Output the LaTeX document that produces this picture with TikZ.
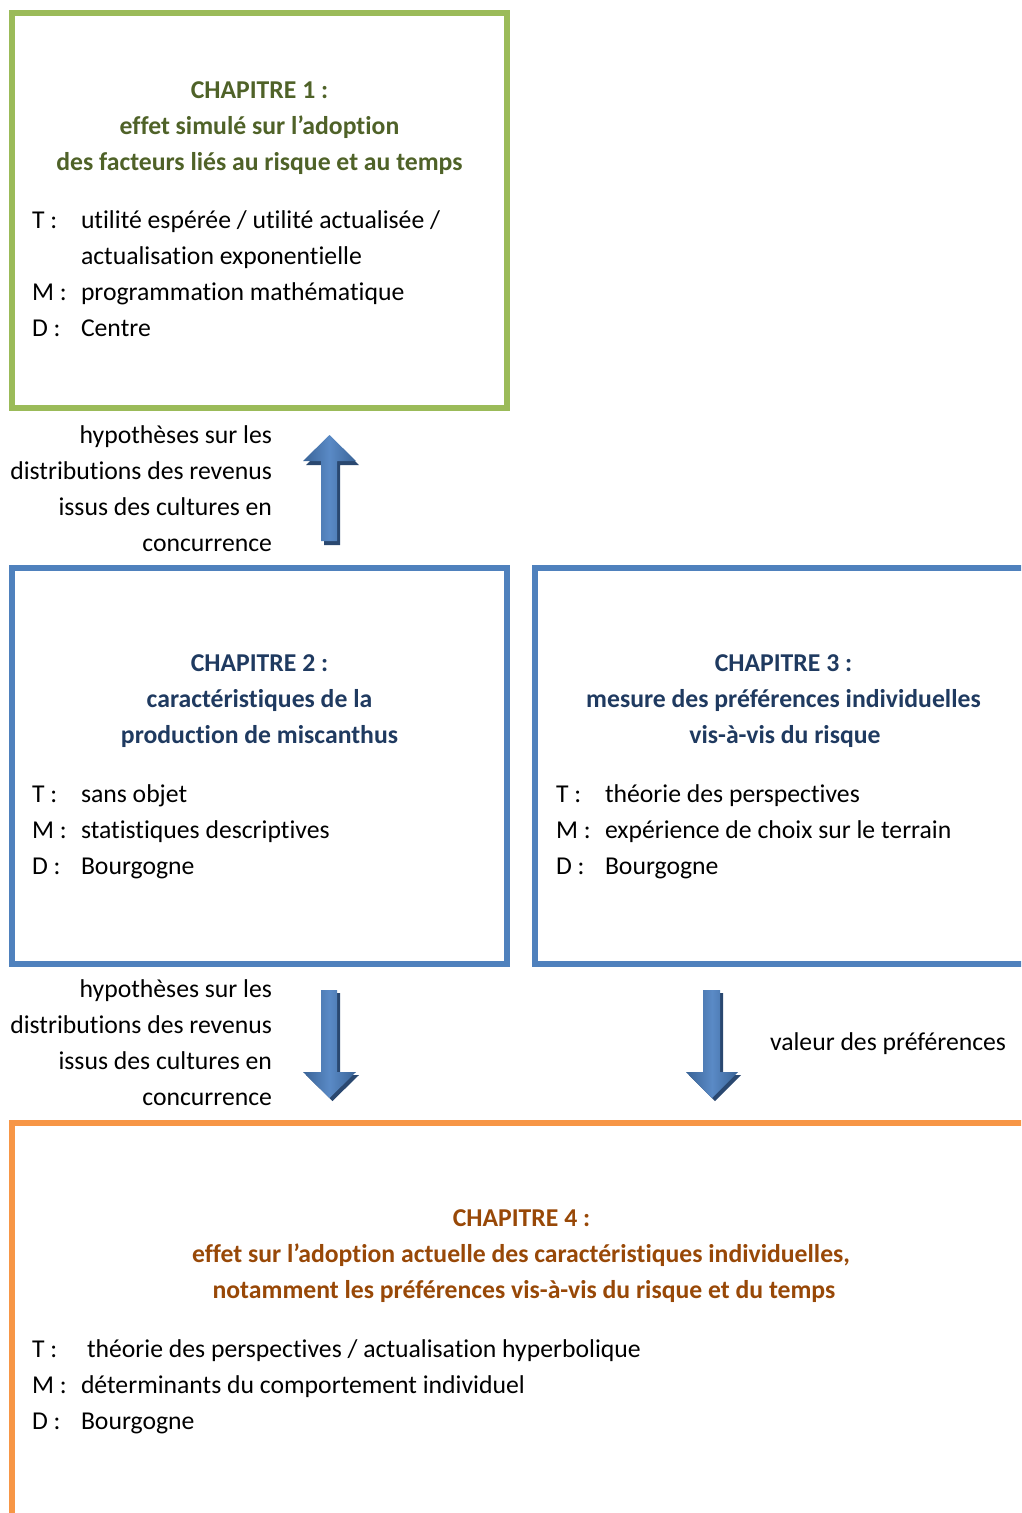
\documentclass[tikz,border=0pt]{standalone}
\usepackage{fontspec}
\setmainfont{Carlito}[Ligatures=NoCommon]
\definecolor{cgreen}{HTML}{9BBB59}
\definecolor{cblue}{HTML}{4F81BD}
\definecolor{corange}{HTML}{F79646}
\definecolor{tgreen}{HTML}{4F6228}
\definecolor{tblue}{HTML}{1F3A60}
\definecolor{torange}{HTML}{984807}
\definecolor{ashadow}{HTML}{2A4870}
\definecolor{adark}{HTML}{3A6497}
\definecolor{alight}{HTML}{5A8AC6}
\begin{document}
\begin{tikzpicture}[x=1pt,y=-1pt,
  every node/.style={inner sep=0pt,outer sep=0pt,font=\fontsize{25.7}{36}\selectfont},
  lab/.style={anchor=base west},
  labr/.style={anchor=base east},
  ttl/.style={anchor=base,font=\fontsize{25.7}{36}\selectfont\bfseries},
  boxline/.style={line width=6pt},
  arrowfill/.style={left color=adark,right color=adark,middle color=alight},
  arrowshadow/.style={fill=ashadow}]
\useasboundingbox (0,0) rectangle (1021,1513);
\clip (0,0) rectangle (1021,1513);
% boxes
\draw[boxline,cgreen] (12,12.5) rectangle (507,407.5);
\draw[boxline,cblue] (12,568) rectangle (507,963.5);
\draw[boxline,cblue] (535,568) rectangle (1035,963.5);
\draw[boxline,corange] (12,1123) rectangle (1035,1535);
% chapter 1
\node[ttl,tgreen] (c1a) at (259.5,98) {CHAPITRE 1 :};
\node[ttl,tgreen] (c1b) at (259.5,134) {effet simulé sur l’adoption};
\node[ttl,tgreen] (c1c) at (259.5,170) {des facteurs liés au risque et au temps};
\node[lab] (c1T) at (32,228) {T :};
\node[lab] (c1Tx) at (81,228) {utilité espérée / utilité actualisée /};
\node[lab] (c1Tx2) at (81,264) {actualisation exponentielle};
\node[lab] (c1M) at (32,300) {M :};
\node[lab] (c1Mx) at (81,300) {programmation mathématique};
\node[lab] (c1D) at (32,336) {D :};
\node[lab] (c1Dx) at (81,336) {Centre};
% chapter 2
\node[ttl,tblue] (c2a) at (259.5,671) {CHAPITRE 2 :};
\node[ttl,tblue] (c2b) at (259.5,707) {caractéristiques de la};
\node[ttl,tblue] (c2c) at (259.5,743) {production de miscanthus};
\node[lab] (c2T) at (32,802) {T :};
\node[lab] (c2Tx) at (81,802) {sans objet};
\node[lab] (c2M) at (32,838) {M :};
\node[lab] (c2Mx) at (81,838) {statistiques descriptives};
\node[lab] (c2D) at (32,874) {D :};
\node[lab] (c2Dx) at (81,874) {Bourgogne};
% chapter 3
\node[ttl,tblue] (c3a) at (783.5,671) {CHAPITRE 3 :};
\node[ttl,tblue] (c3b) at (783.5,707) {mesure des préférences individuelles};
\node[ttl,tblue] (c3c) at (785,743) {vis-à-vis du risque};
\node[lab] (c3T) at (556,802) {T :};
\node[lab] (c3Tx) at (605,802) {théorie des perspectives};
\node[lab] (c3M) at (556,838) {M :};
\node[lab] (c3Mx) at (605,838) {expérience de choix sur le terrain};
\node[lab] (c3D) at (556,874) {D :};
\node[lab] (c3Dx) at (605,874) {Bourgogne};
% chapter 4
\node[ttl,torange] (c4a) at (521.5,1226) {CHAPITRE 4 :};
\node[ttl,torange] (c4b) at (521,1262) {effet sur l’adoption actuelle des caractéristiques individuelles,};
\node[ttl,torange] (c4c) at (524,1298) {notamment les préférences vis-à-vis du risque et du temps};
\node[lab] (c4T) at (32,1357) {T :};
\node[lab] (c4Tx) at (87,1357) {théorie des perspectives / actualisation hyperbolique};
\node[lab] (c4M) at (32,1393) {M :};
\node[lab] (c4Mx) at (81,1393) {déterminants du comportement individuel};
\node[lab] (c4D) at (32,1429) {D :};
\node[lab] (c4Dx) at (81,1429) {Bourgogne};
% arrow labels
\node[labr] (h1a) at (272,443) {hypothèses sur les};
\node[labr] (h1b) at (272,479) {distributions des revenus};
\node[labr] (h1c) at (272,515) {issus des cultures en};
\node[labr] (h1d) at (272,551) {concurrence};
\node[labr] (h2a) at (272,997) {hypothèses sur les};
\node[labr] (h2b) at (272,1033) {distributions des revenus};
\node[labr] (h2c) at (272,1069) {issus des cultures en};
\node[labr] (h2d) at (272,1105) {concurrence};
\node[lab] (vp) at (770,1050) {valeur des préférences};
% up arrow (chapter 2 -> chapter 1)
\fill[arrowshadow,shift={(3,4)}] (329.5,435) -- (356,461) -- (337,461) -- (337,541) -- (321,541) -- (321,461) -- (303,461) -- cycle;
\shade[arrowfill] (329.5,435) -- (356,461) -- (337,461) -- (337,541) -- (321,541) -- (321,461) -- (303,461) -- cycle;
% down arrow left (chapter 2 -> chapter 4)
\fill[arrowshadow,shift={(3,3)}] (321,990) -- (337,990) -- (337,1072) -- (356,1072) -- (329.5,1098) -- (303,1072) -- (321,1072) -- cycle;
\shade[arrowfill] (321,990) -- (337,990) -- (337,1072) -- (356,1072) -- (329.5,1098) -- (303,1072) -- (321,1072) -- cycle;
% down arrow right (chapter 3 -> chapter 4)
\fill[arrowshadow,shift={(3,3)}] (703,990) -- (720,990) -- (720,1072) -- (738,1072) -- (712,1098) -- (686,1072) -- (703,1072) -- cycle;
\shade[arrowfill] (703,990) -- (720,990) -- (720,1072) -- (738,1072) -- (712,1098) -- (686,1072) -- (703,1072) -- cycle;
\end{tikzpicture}
\end{document}
